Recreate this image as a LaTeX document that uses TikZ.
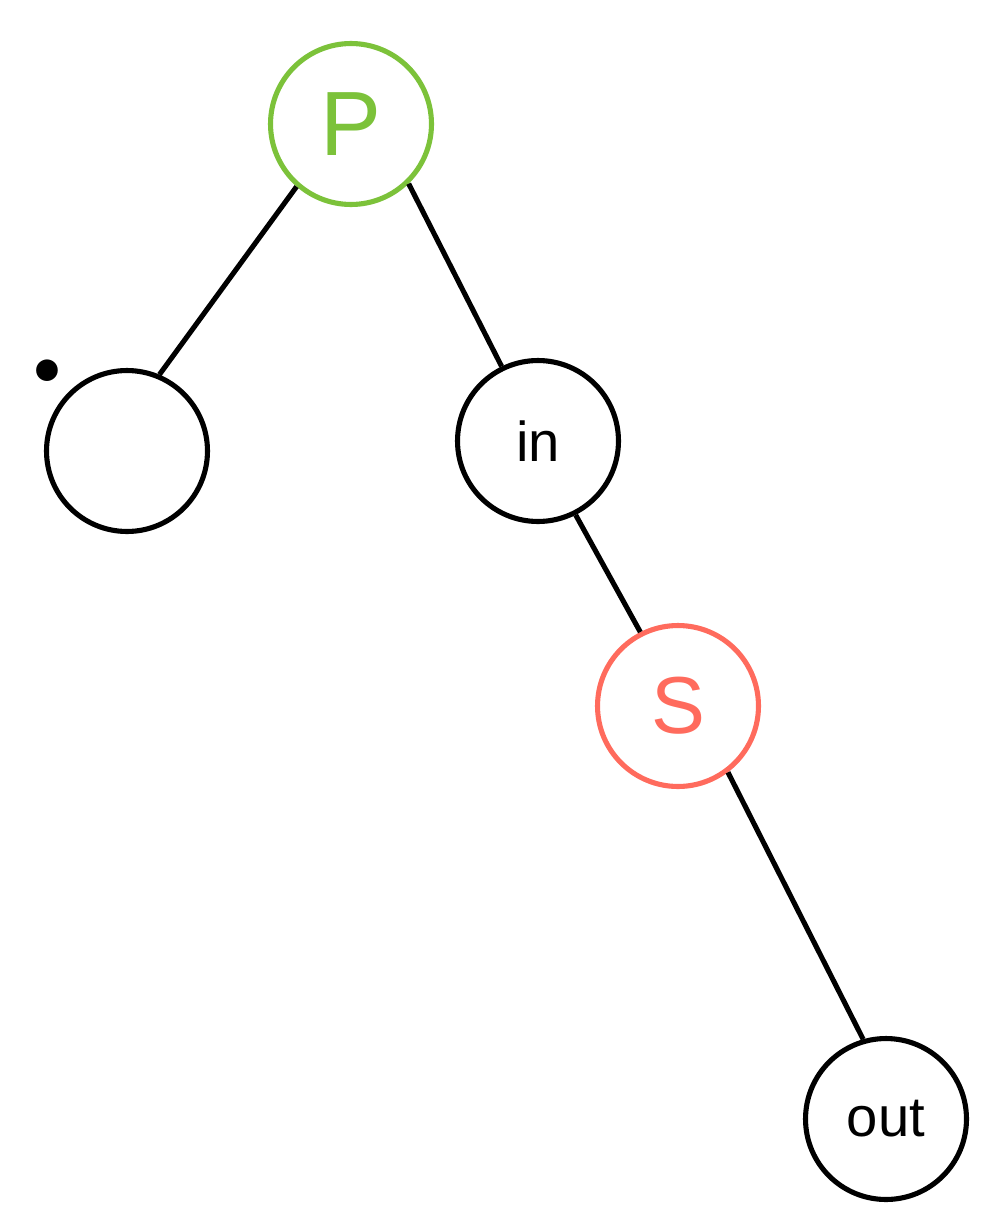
\documentclass[tikz,border=0pt]{standalone}
\usepackage{fontspec}
\setmainfont{Liberation Sans}
\newfontfamily\dotfont{Latin Modern Roman}
\usepackage{xcolor}
\usepackage{tikz}
\usetikzlibrary{positioning}
\definecolor{rootGreen}{HTML}{7CC23A}
\definecolor{hitRed}{HTML}{FF6B5D}
\definecolor{ink}{HTML}{000000}

\begin{document}
\begin{tikzpicture}[x=0.02cm,y=-0.02cm,vtx/.style={draw=ink, circle, line width=2.9pt, minimum size=3.22cm, inner sep=0pt, text=ink, font=\fontsize{32}{38}\selectfont},edge/.style={line width=2.9pt, color=ink}]
\useasboundingbox (0,0) rectangle (1000,1230);
\node[vtx, draw=rootGreen, text=rootGreen, font=\fontsize{52}{60}\selectfont] (p) at (351,124) {P};
\node[vtx] (dot) at (127,451) {};
\node[vtx] (in) at (538,441) {in};
\node[vtx, draw=hitRed, text=hitRed, font=\fontsize{46}{54}\selectfont] (s) at (678,706) {S};
\node[vtx] (out) at (886,1119) {out};
\node[anchor=base, inner sep=0pt, font=\dotfont\fontsize{150}{160}\selectfont] (dotlbl) at (47,381) {.};
\draw[edge] (p.229)--(dot.67);
\draw[edge] (p.314)--(in.116);
\draw[edge] (in.297)--(s.117);
\draw[edge] (s.307)--(out.106);
\end{tikzpicture}
\end{document}
